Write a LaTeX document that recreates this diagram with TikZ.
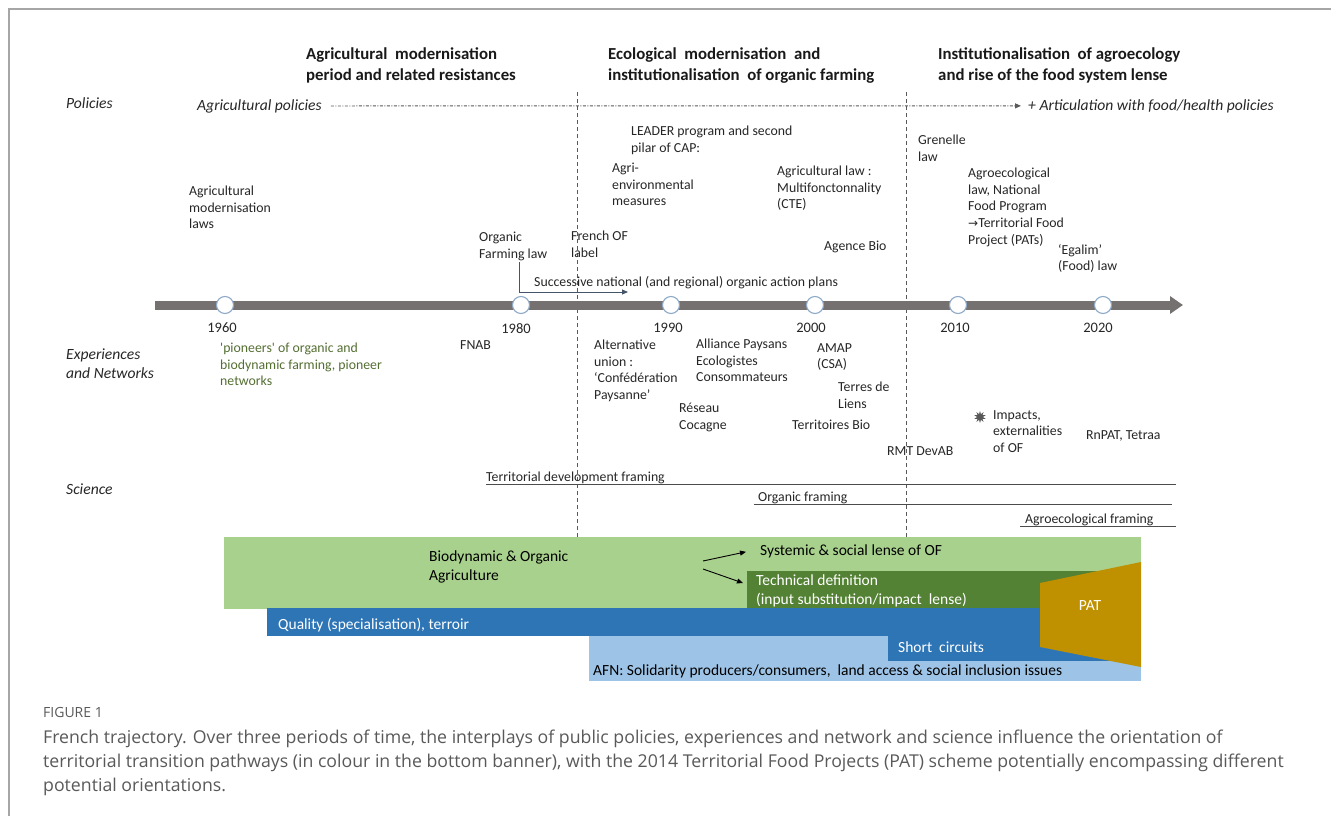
\documentclass[tikz,border=0pt]{standalone}
\usepackage{fontspec}
\setmainfont{Carlito}
\newfontfamily\capfont{Open Sans}
\newfontfamily\symfont{DejaVu Sans}
\usetikzlibrary{arrows.meta,shapes.geometric}
\definecolor{tlgray}{RGB}{118,113,113}
\definecolor{ringblue}{RGB}{143,170,200}
\definecolor{pioneer}{RGB}{84,110,50}
\definecolor{lgreen}{RGB}{169,209,142}
\definecolor{dgreen}{RGB}{84,130,53}
\definecolor{mblue}{RGB}{46,117,182}
\definecolor{lblue}{RGB}{157,195,230}
\definecolor{gold}{RGB}{191,144,0}
\definecolor{framegray}{RGB}{166,166,166}
\definecolor{capgray}{RGB}{89,89,89}
\definecolor{planarrow}{RGB}{68,84,106}
\begin{document}
\begin{tikzpicture}[x=1pt,y=-1pt,
  txt/.style={anchor=north west,inner sep=0pt,align=left,text=black!85,font=\fontsize{13.8}{16.6}\selectfont},
  head/.style={anchor=north west,inner sep=0pt,align=left,text=black!90,font=\fontsize{16.8}{21}\selectfont\bfseries},
  rowlab/.style={anchor=north west,inner sep=0pt,align=left,text=black!85,font=\fontsize{15.6}{19}\selectfont\itshape},
  yearlab/.style={anchor=north,inner sep=0pt,text=black!85,font=\fontsize{14.5}{16}\selectfont},
  bandtxt/.style={anchor=north west,inner sep=0pt,align=left,font=\fontsize{15.5}{19}\selectfont},
  ring/.style={circle,draw=ringblue,fill=white,line width=1.1pt,minimum size=17pt,inner sep=0pt},
  period/.style={dash pattern=on 4pt off 3pt,color=black!65,line width=0.8pt},
  policyline/.style={dash pattern=on 3pt off 1.5pt on 1pt off 1.5pt,color=black!65,line width=0.9pt,-{Triangle[length=6pt,width=5pt]}},
  framing/.style={color=black!70,line width=1pt},
  tip/.style={-{Triangle[length=6pt,width=5pt]}}]
  \useasboundingbox (0,0) rectangle (1331,816);
  \draw[framegray,line width=1.5pt] (1331,9) -- (9,9) -- (9,816);

  \node[head] (hmod) at (306,47) {Agricultural\ \ modernisation\\period and related resistances};
  \node[head] (heco) at (608,47) {Ecological\ \ modernisation\ \ and\\institutionalisation\ \ of organic farming};
  \node[head] (hagro) at (938,47) {Institutionalisation\ \ of agroecology\\and rise of the food system lense};

  \node[rowlab] (rowpol) at (66,97) {Policies};
  \node[rowlab] (rowexp) at (66,349) {Experiences\\and Networks};
  \node[rowlab] (rowsci) at (66,484) {Science};

  \node[rowlab] (agpol) at (197,99) {Agricultural policies};
  \node[rowlab] (artic) at (1028,99) {+ Articulation with food/health policies};
  \draw[policyline] ([xshift=9pt]agpol.east) -- ([xshift=-7pt]artic.west);

  \coordinate (pa0) at (577,92);
  \coordinate (pa1) at (577,537);
  \coordinate (pb0) at (906,92);
  \coordinate (pb1) at (906,537);
  \draw[period] (pa0) -- (pa1);
  \draw[period] (pb0) -- (pb1);

  \node[txt] (modlaws) at (189,186) {Agricultural\\modernisation\\laws};
  \node[txt] (oflaw) at (479,232) {Organic\\Farming law};
  \node[txt] (oflabel) at (571,231) {French OF\\label};
  \node[txt] (leader) at (631,126) {LEADER program and second\\pilar of CAP:};
  \node[txt] (agrienv) at (612,163) {Agri-\\environmental\\measures};
  \node[txt] (aglaw) at (777,166) {Agricultural law :\\Multifonctonnality\\(CTE)};
  \node[txt] (agbio) at (824,241) {Agence Bio};
  \node[txt] (grenelle) at (918,135) {Grenelle\\law};
  \node[txt] (agrolaw) at (968,168) {Agroecological\\law, National\\Food Program\\{\symfont\fontsize{12}{16.6}\selectfont →}Territorial Food\\Project (PATs)};
  \node[txt] (egalim) at (1058,244) {‘Egalim’\\(Food) law};
  \node[txt] (plans) at (534,276) {Successive national (and regional) organic action plans};
  \coordinate (plan0) at (519,262);
  \coordinate (plan1) at (519,292);
  \coordinate (plan2) at (628,292);
  \draw[tip,planarrow,line width=0.9pt] (plan0) -- (plan1) -- (plan2);

  \coordinate (tl0) at (155,305);
  \coordinate (tl1) at (1183,305);
  \draw[line width=9pt,tlgray,-{Triangle[length=13pt,width=17pt]}] (tl0) -- (tl1);
  \foreach \yr/\xx/\lx in {1960/225/222,1980/521/516,1990/671/668,2000/815/811,2010/958/955,2020/1103/1098} {
    \node[ring] (r\yr) at (\xx,305) {};
    \node[yearlab] (y\yr) at (\lx,323) {\yr};
  }

  \node[txt,text=pioneer] (pioneers) at (220,343) {\textquotesingle pioneers\textquotesingle\ of organic and\\biodynamic farming, pioneer\\networks};
  \node[txt] (fnab) at (460,340) {FNAB};
  \node[txt] (confed) at (594,340) {Alternative\\union :\\‘Confédération\\Paysanne’};
  \node[txt] (alliance) at (696,339) {Alliance Paysans\\Ecologistes\\Consommateurs};
  \node[txt] (amap) at (817,343) {AMAP\\(CSA)};
  \node[txt] (terres) at (838,382) {Terres de\\Liens};
  \node[txt] (cocagne) at (679,403) {Réseau\\Cocagne};
  \node[txt] (terbio) at (792,420) {Territoires Bio};
  \node[txt] (rmt) at (887,446) {RMT DevAB};
  \node[star,star points=10,star point ratio=2,fill=black!65,minimum size=12pt,inner sep=0pt] (burst) at (980,417) {};
  \node[txt] (impacts) at (993,410) {Impacts,\\externalities\\of OF};
  \node[txt] (rnpat) at (1086,430) {RnPAT, Tetraa};

  \coordinate (sciend) at (1176,0);
  \node[txt] (terfr) at (486,472) {Territorial development framing};
  \node[txt] (orgfr) at (758,492) {Organic framing};
  \node[txt] (agrofr) at (1025,514) {Agroecological framing};
  \draw[framing] (terfr.south west) -- (terfr.south west -| sciend);
  \draw[framing] ([xshift=-4pt]orgfr.south west) -- ([xshift=-4pt]orgfr.south west -| sciend);
  \draw[framing] ([xshift=-5pt]agrofr.south west) -- (agrofr.south west -| sciend);

  \fill[lgreen] (224,537) rectangle (1141,609);
  \fill[dgreen] (747,571) rectangle (1141,608);
  \fill[mblue] (267,608) rectangle (1141,636);
  \fill[lblue] (589,636) rectangle (1141,681);
  \fill[mblue] (888,636) rectangle (1141,661);
  \fill[gold] (1040,583) -- (1141,562) -- (1141,667) -- (1040,647) -- cycle;

  \node[bandtxt] (biodyn) at (429,551) {Biodynamic \& Organic\\Agriculture};
  \node[bandtxt] (systemic) at (760,545) {Systemic \& social lense of OF};
  \node[bandtxt,text=white] (technical) at (756,575) {Technical definition\\(input substitution/impact\ \ lense)};
  \node[bandtxt,text=white] (quality) at (278,618) {Quality (specialisation), terroir};
  \node[bandtxt,text=white] (short) at (898,642) {Short\ \ circuits};
  \node[bandtxt] (afn) at (593,665) {AFN: Solidarity producers/consumers,\ \ land access \& social inclusion issues};
  \node[inner sep=0pt,text=white,font=\fontsize{15.5}{19}\selectfont] (pat) at (1090,606) {PAT};
  \coordinate (fork1) at (703,561);
  \coordinate (fork2) at (703,569);
  \draw[tip,line width=0.9pt] (fork1) -- ([xshift=-14pt]systemic.west);
  \draw[tip,line width=0.9pt] (fork2) -- (743,583);

  \node[anchor=north west,inner sep=0pt,text=capgray,font=\capfont\fontsize{14}{16}\selectfont] (figno) at (43,707) {FIGURE 1};
  \node[anchor=north west,inner sep=0pt,align=left,text=capgray,font=\capfont\fontsize{17.7}{24}\selectfont] (caption) at (43,730) {French trajectory. Over three periods of time, the interplays of public policies, experiences and network and science influence the orientation of\\territorial transition pathways (in colour in the bottom banner), with the 2014 Territorial Food Projects (PAT) scheme potentially encompassing different\\potential orientations.};
\end{tikzpicture}
\end{document}
